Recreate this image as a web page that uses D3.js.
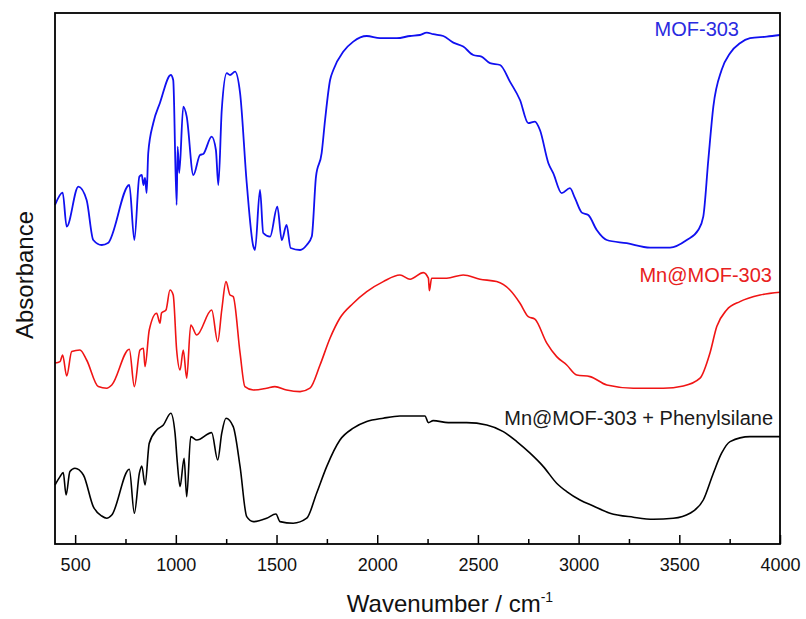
<!DOCTYPE html>
<html>
<head>
<meta charset="utf-8">
<script src="https://cdn.jsdelivr.net/npm/d3@7"></script>
<style>
    body { margin: 0; background: #fff; }
    text { font-family: "Liberation Sans", Arial, sans-serif; }
</style>
</head>
<body>
<svg id="drawing_region"></svg>
<script>
// [wavenumber (cm-1), absorbance (a.u., offset stacked)]
const mof303 = [
    [400,1.695],[438,1.757],[458,1.587],[516,1.787],[557,1.72],[590,1.52],[632,1.495],[663,1.505],
    [769,1.795],[794,1.52],[819,1.837],[831,1.845],[839,1.795],[847,1.83],[855,1.755],[863,1.955],
    [888,2.105],[921,2.205],[975,2.345],[987,2.32],[1004,1.695],[1009,1.987],[1017,1.855],[1037,2.187],
    [1054,2.137],[1087,1.845],[1120,1.945],[1136,1.95],[1178,2.037],[1199,1.97],[1211,1.795],[1228,2.17],
    [1253,2.354],[1269,2.345],[1294,2.362],[1319,2.255],[1352,1.805],[1385,1.487],[1393,1.47],[1418,1.77],
    [1434,1.555],[1468,1.537],[1504,1.687],[1526,1.52],[1550,1.595],[1570,1.48],[1617,1.47],[1650,1.495],
    [1675,1.537],[1696,1.837],[1724,1.954],[1741,2.12],[1766,2.32],[1782,2.37],[1832,2.462],[1881,2.512],
    [1948,2.54],[2014,2.529],[2097,2.529],[2163,2.54],[2212,2.545],[2246,2.557],[2278,2.549],[2328,2.54],
    [2378,2.507],[2427,2.487],[2477,2.445],[2518,2.437],[2560,2.404],[2610,2.395],[2659,2.312],[2709,2.22],
    [2750,2.104],[2783,2.112],[2808,2.07],[2850,1.904],[2874,1.854],[2916,1.754],[2957,1.779],[2982,1.729],
    [3016,1.657],[3048,1.645],[3090,1.57],[3140,1.52],[3239,1.504],[3355,1.482],[3454,1.482],[3537,1.52],
    [3594,1.57],[3619,1.637],[3644,1.92],[3669,2.187],[3710,2.37],[3752,2.454],[3801,2.504],[3851,2.529],
    [3934,2.537],[4000,2.545]
];
const mnMof303 = [
    [400,0.905],[425,0.912],[438,0.945],[458,0.84],[483,0.962],[524,0.97],[557,0.92],[615,0.787],
    [657,0.779],[682,0.795],[769,0.974],[794,0.787],[822,0.97],[839,0.979],[847,0.887],[868,1.07],
    [905,1.154],[921,1.104],[929,1.155],[951,1.17],[971,1.27],[987,1.245],[1004,0.97],[1021,0.87],
    [1037,0.97],[1054,0.829],[1074,1.095],[1104,1.045],[1178,1.17],[1208,1.012],[1228,1.17],[1249,1.312],
    [1269,1.245],[1285,1.237],[1319,0.954],[1343,0.787],[1385,0.77],[1451,0.779],[1492,0.787],[1550,0.77],
    [1617,0.762],[1666,0.779],[1716,0.895],[1766,1.03],[1815,1.13],[1881,1.204],[1948,1.262],[2030,1.312],
    [2113,1.345],[2163,1.324],[2229,1.357],[2254,1.329],[2259,1.267],[2270,1.329],[2345,1.329],[2427,1.345],
    [2510,1.324],[2593,1.312],[2659,1.27],[2709,1.204],[2750,1.137],[2783,1.124],[2842,1.004],[2891,0.937],
    [2941,0.895],[2991,0.845],[3057,0.837],[3140,0.795],[3272,0.779],[3420,0.779],[3520,0.79],[3603,0.829],
    [3652,0.954],[3686,1.087],[3735,1.17],[3801,1.212],[3901,1.245],[4000,1.259]
];
const mnMofSilane = [
    [400,0.295],[425,0.337],[441,0.357],[455,0.245],[474,0.362],[499,0.379],[541,0.345],[590,0.187],
    [632,0.14],[657,0.129],[682,0.145],[769,0.374],[794,0.154],[819,0.354],[831,0.39],[847,0.295],
    [868,0.504],[905,0.57],[938,0.595],[975,0.654],[996,0.554],[1007,0.412],[1021,0.287],[1041,0.429],
    [1054,0.237],[1074,0.537],[1104,0.52],[1178,0.557],[1208,0.42],[1228,0.554],[1249,0.629],[1285,0.587],
    [1319,0.387],[1352,0.137],[1385,0.112],[1451,0.129],[1497,0.15],[1517,0.112],[1583,0.104],[1650,0.129],
    [1699,0.254],[1749,0.387],[1815,0.52],[1881,0.579],[1948,0.612],[2030,0.629],[2113,0.64],[2237,0.64],
    [2254,0.607],[2278,0.617],[2353,0.607],[2444,0.607],[2544,0.595],[2626,0.562],[2693,0.512],[2759,0.454],
    [2825,0.387],[2891,0.304],[2941,0.262],[3007,0.22],[3073,0.19],[3156,0.154],[3272,0.134],[3371,0.124],
    [3470,0.129],[3553,0.154],[3619,0.22],[3669,0.354],[3710,0.454],[3752,0.512],[3851,0.537],[4000,0.537]
];
const seriesNames = ["MOF-303", "Mn@MOF-303", "Mn@MOF-303 + Phenylsilane"];
const seriesColors = ["#1010f0", "#f01414", "#000000"];
const labelColors = ["#2a2ae0", "#e82020", "#1a1a1a"];
const majorTicks = [500, 1000, 1500, 2000, 2500, 3000, 3500, 4000];
const minorTicks = [750, 1250, 1750, 2250, 2750, 3250, 3750];

const config = {
    parent: '#drawing_region',
    width: 806,
    height: 619,
    margin: {top: 13, right: 26, bottom: 75, left: 55},
};

const svg = d3.select(config.parent)
    .attr('width', config.width)
    .attr('height', config.height);

const inner_width = config.width - config.margin.left - config.margin.right;
const inner_height = config.height - config.margin.top - config.margin.bottom;

const chart = svg.append('g')
    .attr('transform', `translate(${config.margin.left}, ${config.margin.top})`);

const xscale = d3.scaleLinear().domain([400, 4000]).range([0, inner_width]);
const yscale = d3.scaleLinear().domain([0, 2.655]).range([inner_height, 0]);

const line = d3.line()
    .x(d => xscale(d[0]))
    .y(d => yscale(d[1]))
    .curve(d3.curveMonotoneX);

const spectra = [mof303, mnMof303, mnMofSilane];
const widths = [1.8, 1.6, 1.6];

chart.selectAll('path.spectrum')
    .data(spectra)
    .enter()
    .append('path')
    .attr('class', 'spectrum')
    .attr('d', d => line(d))
    .attr('fill', 'none')
    .attr('stroke', (d, i) => seriesColors[i])
    .attr('stroke-width', (d, i) => widths[i])
    .attr('stroke-linejoin', 'round');

// minor ticks
const xminor = d3.axisBottom(xscale)
    .tickValues(minorTicks)
    .tickFormat('')
    .tickSizeInner(-5)
    .tickSizeOuter(0);
const minor_group = chart.append('g')
    .attr('transform', `translate(0, ${inner_height})`)
    .call(xminor);
minor_group.select('.domain').remove();

// major ticks
const xaxis = d3.axisBottom(xscale)
    .tickValues(majorTicks)
    .tickFormat(d3.format('d'))
    .tickSizeInner(-9)
    .tickSizeOuter(0)
    .tickPadding(14);
const xaxis_group = chart.append('g')
    .attr('transform', `translate(0, ${inner_height})`)
    .call(xaxis);
xaxis_group.select('.domain').remove();
xaxis_group.selectAll('line').attr('stroke', '#000').attr('stroke-width', 1.5);
minor_group.selectAll('line').attr('stroke', '#000').attr('stroke-width', 1.5);
xaxis_group.selectAll('text')
    .attr('font-size', 18)
    .attr('font-family', '"Liberation Sans", Arial, sans-serif')
    .attr('fill', '#111');

// frame
chart.append('rect')
    .attr('x', 0).attr('y', 0)
    .attr('width', inner_width).attr('height', inner_height)
    .attr('fill', 'none')
    .attr('stroke', '#000')
    .attr('stroke-width', 1.8);

// series labels
const labelPos = [
    {x: 739, y: 36},
    {x: 772, y: 282},
    {x: 773, y: 425},
];
svg.selectAll('text.series')
    .data(seriesNames)
    .enter()
    .append('text')
    .attr('class', 'series')
    .attr('x', (d, i) => labelPos[i].x)
    .attr('y', (d, i) => labelPos[i].y)
    .attr('text-anchor', 'end')
    .attr('font-size', 20)
    .attr('fill', (d, i) => labelColors[i])
    .text(d => d);

// axis titles
const xtitle = svg.append('text')
    .attr('x', 450)
    .attr('y', 612)
    .attr('text-anchor', 'middle')
    .attr('font-size', 24)
    .attr('fill', '#111');
xtitle.append('tspan').text('Wavenumber / cm');
xtitle.append('tspan').attr('dy', -10).attr('font-size', 14).text('-1');

svg.append('text')
    .attr('transform', 'translate(33, 275) rotate(-90)')
    .attr('text-anchor', 'middle')
    .attr('font-size', 24)
    .attr('fill', '#111')
    .text('Absorbance');
</script>
</body>
</html>
